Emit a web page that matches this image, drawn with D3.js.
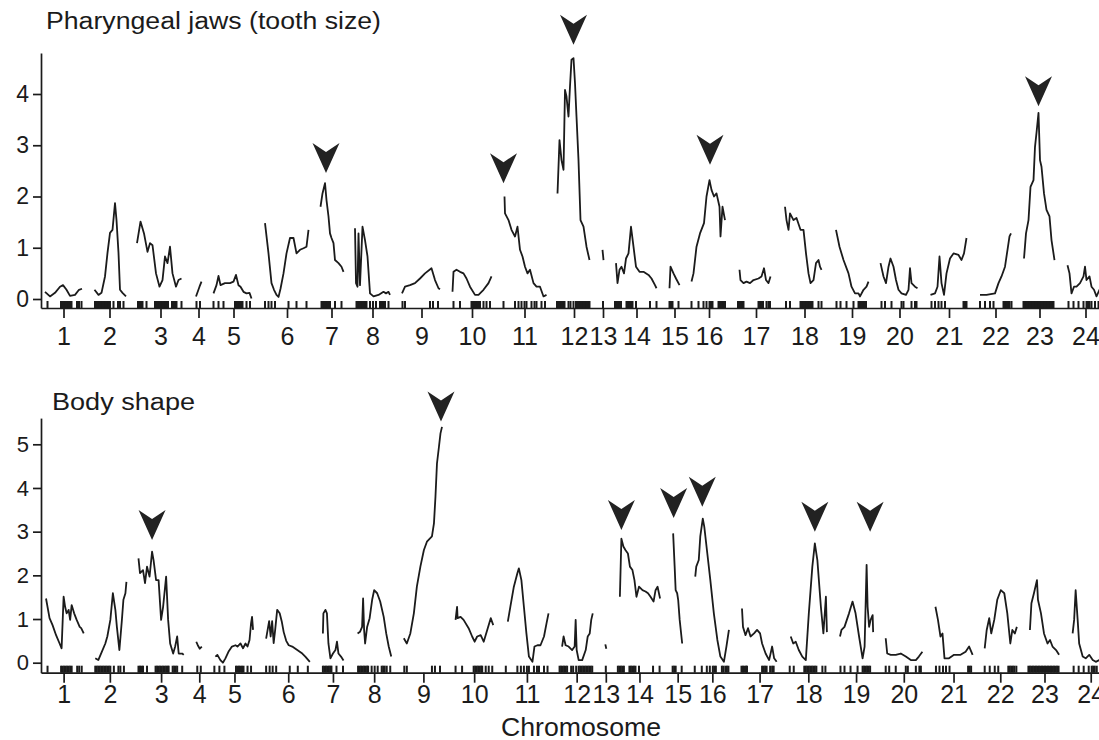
<!DOCTYPE html>
<html>
<head>
<meta charset="utf-8">
<script src="https://cdn.jsdelivr.net/npm/d3@7"></script>
<style>
body { margin: 0; background: #fff; }
svg { display: block; font-family: "Liberation Sans", Arial, Helvetica, sans-serif; }
</style>
</head>
<body>
<script>
// chromosome labels and linkage group lengths (cM)
var chromosomes = ["1","2","3","4","5","6","7","8","9","10","11","12",
                   "13","14","15","16","17","18","19","20","21","22","23","24"];
var chrLengths = [74, 66, 94, 14, 82, 88, 46, 74, 78, 80, 86, 68,
                  4, 86, 22, 72, 72, 78, 68, 78, 76, 66, 66, 74];

// marker positions (cM within chromosome), drawn as the rug on the x axis
var markers = [
	[5,32,35,38,41,44,47,50,53,64,68,73],
	[4,7,10,13,16,19,22,25,28,31,34,41,50,54,61],
	[2,5,8,11,19,36,39,42,45,48,51,54,57,60,62,70,73,76,79,89],
	[3,10],
	[1,11,21,44,47,50,53,56,59,67,74],
	[0,7,13,20,47,63,83],
	[3,6,9,12,15,18,20,30,43],
	[5,8,11,14,17,20,23,25,32,38,44,52,55,58,62,69],
	[1,6,56,62,72],
	[3,16,39,42,45,48,51,54,56,63,69,76],
	[1,24,31,37,43,47,57,63,67,77,84],
	[0,3,6,9,12,15,23,27,33,38,41,44,47,50,53,56,59,62,65],
	[2],
	[0,3,6,9,12,23,26,29,32,35,42,70,83],
	[1,4,7,19],
	[1,15,25,31,37,40,43,55,58,62,65,68],
	[0,3,6,9,11,41,44,47,50,57,61,64],
	[2,10,31,34,37,40,43,46,49,52,55,67,73],
	[3,11,23,37,47,50,53,56,59,62],
	[3,10,23,43,47,63,70,73],
	[3,10,17,23,30,67,70,73],
	[2,12,22,29,49,52,55,58,61,65],
	[1,4,7,10,13,16,19,22,25,28,31,34,37,40,43,46,49,52,55,58,61],
	[3,13,23,33,39,42,45,49,56,63]
];

// LOD profiles, one list of [cM, LOD] per chromosome
var jawLod = [
	[[0,0.14],[10,0.05],[20,0.12],[30,0.24],[36,0.27],[43,0.18],[50,0.06],[60,0.08],[68,0.18],[74,0.2]],
	[[3,0.18],[11,0.08],[17,0.12],[24,0.44],[29,0.9],[34,1.29],[39,1.35],[44,1.87],[47,1.54],[51,0.9],[54,0.18],[59,0.12],[66,0.05]],
	[[0,1.09],[7,1.51],[14,1.28],[21,0.92],[26,1.09],[31,1.05],[38,0.5],[45,0.24],[51,0.37],[56,0.83],[61,0.7],[66,1.02],[71,0.5],[78,0.24],[83,0.37],[89,0.4]],
	[[2,0.05],[9,0.24],[13,0.34]],
	[[1,0.11],[7,0.27],[11,0.45],[15,0.27],[24,0.31],[34,0.31],[41,0.34],[46,0.47],[51,0.27],[55,0.24],[61,0.14],[67,0.11],[73,0.12],[77,0.01]],
	[[0,1.48],[7,0.89],[13,0.31],[18,0.18],[23,0.08],[27,0.04],[31,0.2],[37,0.5],[43,0.89],[50,1.19],[57,1.19],[63,0.89],[70,0.96],[77,0.99],[83,1.02],[87,1.35]],
	[[1,1.8],[5,2.06],[10,2.26],[13,1.93],[17,1.61],[20,1.28],[23,1.19],[27,1.09],[30,0.76],[37,0.7],[43,0.63],[47,0.53]],
	[[2,1.38],[4,0.31],[7,0.24],[9,1.28],[12,0.27],[17,1.41],[22,1.15],[27,0.83],[32,0.11],[39,0.05],[49,0.08],[59,0.14],[64,0.11],[69,0.14],[72,0.08]],
	[[0,0.11],[6,0.24],[16,0.27],[26,0.31],[36,0.4],[46,0.5],[59,0.6],[66,0.37],[73,0.21],[76,0.19]],
	[[1,0.14],[3,0.53],[9,0.57],[16,0.53],[23,0.5],[29,0.4],[36,0.24],[46,0.08],[53,0.08],[63,0.18],[73,0.31],[79,0.44]],
	[[3,2.0],[4,1.67],[11,1.54],[17,1.35],[24,1.22],[29,1.41],[34,0.96],[39,0.83],[44,0.63],[49,0.5],[54,0.57],[61,0.31],[67,0.24],[74,0.24],[81,0.05],[87,0.08]],
	[[1,2.06],[5,3.1],[9,2.71],[13,2.52],[16,4.08],[19,3.95],[23,3.56],[26,4.15],[29,4.67],[33,4.7],[36,4.21],[39,3.56],[43,2.71],[47,1.54],[53,1.41],[59,1.02],[65,0.76]],
	[[1,0.96],[3,0.76]],
	[[2,0.7],[5,0.31],[9,0.57],[13,0.63],[18,0.5],[22,0.79],[27,0.89],[32,1.41],[37,1.02],[42,0.63],[49,0.53],[57,0.53],[67,0.47],[73,0.4],[80,0.27],[83,0.21]],
	[[1,0.21],[3,0.63],[9,0.5],[14,0.4],[21,0.27]],
	[[1,0.34],[5,0.5],[11,1.02],[18,1.28],[26,1.48],[31,2.0],[37,2.32],[41,2.13],[46,2.0],[51,2.06],[57,1.8],[59,1.22],[63,1.8],[68,1.54]],
	[[3,0.57],[5,0.37],[11,0.31],[17,0.34],[24,0.31],[31,0.37],[41,0.4],[47,0.44],[52,0.6],[56,0.37],[61,0.31],[65,0.44]],
	[[0,1.8],[3,1.54],[7,1.35],[10,1.67],[17,1.54],[23,1.58],[31,1.35],[37,1.35],[42,0.89],[47,0.5],[51,0.31],[57,0.37],[62,0.7],[67,0.76],[70,0.63],[73,0.57]],
	[[2,1.35],[9,1.02],[17,0.76],[27,0.5],[33,0.24],[40,0.11],[47,0.11],[50,0.05],[57,0.18],[63,0.24],[67,0.34]],
	[[1,0.7],[7,0.44],[12,0.31],[17,0.63],[21,0.79],[27,0.63],[32,0.37],[37,0.18],[43,0.11],[52,0.08],[57,0.18],[60,0.6],[63,0.31],[70,0.24],[75,0.21]],
	[[1,0.08],[10,0.11],[15,0.24],[19,0.83],[23,0.31],[28,0.08],[33,0.5],[40,0.79],[47,0.89],[57,0.86],[63,0.76],[68,0.89],[73,1.19]],
	[[2,0.08],[15,0.08],[32,0.11],[39,0.31],[45,0.44],[52,0.63],[57,0.96],[61,1.22],[64,1.28]],
	[[2,0.79],[6,1.28],[11,1.54],[15,2.19],[21,2.32],[24,2.97],[27,3.24],[31,3.63],[34,2.71],[37,2.58],[42,2.06],[47,1.74],[53,1.61],[57,1.15],[63,0.76]],
	[[1,0.66],[5,0.5],[9,0.11],[14,0.24],[19,0.24],[26,0.31],[33,0.44],[36,0.63],[39,0.37],[45,0.44],[49,0.24],[54,0.18],[59,0.05],[66,0.2],[72,0.15]]
];

var bodyLod = [
	[[2,1.47],[9,1.02],[15,0.86],[22,0.63],[29,0.44],[33,0.33],[37,1.51],[40,1.28],[43,1.13],[47,1.21],[50,0.98],[53,1.32],[58,1.13],[63,0.98],[69,0.82],[72,0.79],[77,0.67]],
	[[4,0.1],[10,0.06],[17,0.25],[24,0.44],[28,0.6],[34,0.98],[39,1.59],[44,1.21],[47,0.82],[52,0.29],[57,0.98],[60,1.44],[64,1.59],[66,1.85]],
	[[2,2.39],[5,2.05],[11,2.12],[15,1.82],[19,2.2],[24,1.97],[29,2.54],[32,2.35],[37,1.89],[42,1.89],[47,0.98],[51,1.28],[53,1.51],[57,1.97],[61,0.98],[65,0.44],[71,0.21],[75,0.37],[79,0.6],[82,0.21],[89,0.21],[92,0.18]],
	[[1,0.48],[4,0.4],[8,0.32],[12,0.37]],
	[[3,0.14],[7,0.18],[13,0.06],[18,0],[23,0.1],[29,0.25],[36,0.37],[43,0.4],[47,0.37],[53,0.44],[58,0.33],[63,0.44],[67,0.37],[71,0.52],[74,0.9],[76,1.05],[78,0.75]],
	[[0,0.55],[3,0.75],[6,0.95],[9,0.6],[12,0.95],[15,0.45],[18,0.75],[22,1.21],[27,1.13],[31,0.95],[35,0.7],[40,0.5],[45,0.4],[52,0.37],[62,0.29],[72,0.21],[78,0.14],[87,0.02]],
	[[3,0.67],[4,1.13],[8,1.21],[11,1.13],[14,0.44],[18,0.1],[23,0.21],[28,0.29],[31,0.48],[34,0.21],[39,0.14],[44,0.05]],
	[[4,0.67],[9,0.71],[13,0.82],[15,1.47],[17,0.75],[19,0.44],[23,0.82],[28,1.02],[33,1.44],[37,1.66],[43,1.59],[49,1.4],[56,1.05],[61,0.67],[66,0.37],[71,0.14]],
	[[0,0.56],[6,0.44],[13,0.67],[20,1.13],[26,1.74],[33,2.2],[40,2.58],[46,2.77],[56,2.89],[60,3.19],[63,3.8],[66,4.56],[70,4.95],[73,5.25],[76,5.4]],
	[[3,0.98],[6,1.28],[7,1.02],[13,1.05],[19,0.98],[29,0.79],[36,0.6],[41,0.48],[46,0.6],[53,0.63],[59,0.48],[66,0.75],[73,1.02],[78,0.86]],
	[[5,0.94],[10,1.28],[17,1.74],[24,2.05],[27,2.16],[32,1.89],[37,1.28],[42,0.67],[47,0.14],[54,0.02],[58,0.37],[64,0.4],[70,0.4],[77,0.6],[82,0.9],[86,1.13]],
	[[5,0.37],[8,0.6],[12,0.4],[18,0.37],[25,0.29],[30,0.37],[32,0.98],[34,0.29],[38,0.06],[45,0.06],[52,0.29],[56,0.6],[60,0.67],[63,0.98],[66,1.13]],
	[[1,0.42],[3,0.32]],
	[[4,1.51],[7,2.84],[11,2.66],[15,2.58],[20,2.5],[24,2.2],[29,2.12],[33,1.89],[37,1.51],[42,1.74],[49,1.66],[55,1.63],[60,1.59],[65,1.51],[71,1.4],[75,1.66],[79,1.74],[84,1.47]],
	[[2,2.96],[5,2.2],[7,1.66],[10,1.59],[12,1.44],[15,0.98],[20,0.44]],
	[[2,1.97],[4,2.2],[9,2.35],[12,2.89],[17,3.3],[20,3.11],[26,2.5],[32,1.89],[39,1.13],[46,0.52],[52,0.14],[59,0.02],[64,0.37],[69,0.75]],
	[[1,1.24],[3,0.82],[8,0.63],[13,0.79],[18,0.6],[25,0.67],[31,0.75],[37,0.67],[41,0.44],[48,0.21],[55,0.06],[61,0.37],[65,0.1],[70,0.02]],
	[[4,0.6],[9,0.44],[14,0.48],[20,0.29],[27,0.14],[34,0.06],[40,1.13],[47,2.2],[52,2.73],[57,2.35],[64,1.28],[69,0.67],[74,1.51],[76,0.7]],
	[[2,0.6],[5,0.75],[11,0.82],[20,1.13],[27,1.4],[33,1.13],[40,0.6],[47,0.1],[51,0.37],[55,2.24],[57,1.28],[60,0.82],[63,0.98],[67,1.09],[68,0.7]],
	[[3,0.56],[6,0.21],[13,0.18],[23,0.18],[33,0.21],[43,0.14],[53,0.06],[63,0.06],[69,0.14],[76,0.25]],
	[[2,1.28],[7,0.98],[12,0.6],[16,0.67],[20,0.1],[29,0.1],[39,0.18],[52,0.18],[62,0.25],[69,0.37],[76,0.18]],
	[[2,0.33],[6,0.75],[11,1.02],[15,0.67],[21,0.98],[27,1.44],[34,1.66],[41,1.59],[47,1.13],[53,0.44],[57,0.75],[62,0.67],[66,0.82]],
	[[4,0.75],[7,1.36],[12,1.59],[18,1.89],[20,1.44],[26,1.13],[32,0.67],[39,0.44],[44,0.52],[49,0.37],[56,0.29],[62,0.18]],
	[[1,0.67],[4,0.98],[7,1.66],[11,0.98],[14,0.44],[21,0.14],[27,0.1],[34,0.18],[41,0.06],[47,0.02],[54,0.06],[62,0.1],[70,0.05]]
];

// QTL arrowheads: [chromosome, cM, LOD at arrow tip]
var jawPeaks = [[7,12,2.46],[11,1,2.26],[12,33,4.96],[16,38,2.62],[23,31,3.76]];
var bodyPeaks = [[3,29,2.81],[9,74,5.52],[14,7,3.04],[15,3,3.31],[16,16,3.57],[18,52,3.0],[19,62,3.0]];

var jawTicks = [0, 1, 2, 3, 4];
var bodyTicks = [0, 1, 2, 3, 4, 5];

/*----------------------------- LAYOUT -----------------------------*/

var W = 1099, H = 740;
var gap = 22;
var chrStart = [];
var acc = 0;
chrLengths.forEach(function(l){
	chrStart.push(acc);
	acc += l + gap;
});
var total = acc - gap;
var mids = chrStart.map(function(s, i){ return s + chrLengths[i] / 2; });

var svg = d3.select('body').append('svg')
	.attr('width', W)
	.attr('height', H);

var ink = '#1b1b1b';

var drawPanel = function(p){
	var x = d3.scaleLinear()
		.domain([-8, total + 60])
		.range([41, 41 + (total + 68) * 0.5 * p.stretch]);

	var y = d3.scaleLinear()
		.domain([(p.zeroY - p.axisY) / p.unit, p.yTop])
		.range([p.axisY, p.zeroY - p.yTop * p.unit]);

	var g = svg.append('g');

	// title
	g.append('text')
		.attr('x', p.titleX)
		.attr('y', p.titleY)
		.attr('font-size', 23)
		.attr('textLength', p.titleLen)
		.attr('lengthAdjust', 'spacingAndGlyphs')
		.attr('fill', ink)
		.text(p.title);

	// rug of markers
	var rug = [];
	markers.forEach(function(list, i){
		list.forEach(function(m){ rug.push(chrStart[i] + m); });
	});
	g.append('g').selectAll('line').data(rug)
		.enter().append('line')
		.attr('x1', function(d){ return x(d); })
		.attr('x2', function(d){ return x(d); })
		.attr('y1', p.axisY - 7)
		.attr('y2', p.axisY)
		.attr('stroke', ink)
		.attr('stroke-width', 2);

	// x axis
	var xAxis = g.append('g')
		.attr('transform', 'translate(0,' + p.axisY + ')')
		.call(d3.axisBottom(x)
			.tickValues(mids)
			.tickFormat(function(d, i){ return chromosomes[i]; })
			.tickSize(10)
			.tickSizeOuter(0)
			.tickPadding(p.xPad));
	xAxis.selectAll('path, line').attr('stroke', ink).attr('stroke-width', 1.7);
	xAxis.selectAll('text').attr('font-size', 25).attr('fill', ink)
		.attr('font-family', '"Liberation Sans", Arial, sans-serif');

	// y axis
	var yAxis = g.append('g')
		.attr('transform', 'translate(41,0)')
		.call(d3.axisLeft(y)
			.tickValues(p.ticks)
			.tickFormat(d3.format('d'))
			.tickSize(8)
			.tickSizeOuter(0)
			.tickPadding(4));
	yAxis.selectAll('path, line').attr('stroke', ink).attr('stroke-width', 1.7);
	yAxis.selectAll('text').attr('font-size', p.yFont).attr('fill', ink)
		.attr('font-family', '"Liberation Sans", Arial, sans-serif');

	// LOD curves
	var line = d3.line()
		.x(function(d){ return x(d[0]); })
		.y(function(d){ return y(d[1]); });

	p.lod.forEach(function(pts, i){
		g.append('path')
			.datum(pts.map(function(d){ return [chrStart[i] + d[0], d[1]]; }))
			.attr('d', line)
			.attr('fill', 'none')
			.attr('stroke', ink)
			.attr('stroke-width', 1.8)
			.attr('stroke-linejoin', 'round');
	});

	// arrowheads
	g.append('g').selectAll('path').data(p.peaks)
		.enter().append('path')
		.attr('transform', function(d){
			return 'translate(' + x(chrStart[d[0] - 1] + d[1]) + ',' + y(d[2]) + ')';
		})
		.attr('d', 'M0,0L-13.5,-30L0,-21L13.5,-30Z')
		.attr('fill', '#222');

	return x;
};

drawPanel({
	title: 'Pharyngeal jaws (tooth size)', titleX: 46, titleY: 29, titleLen: 335,
	lod: jawLod, peaks: jawPeaks, ticks: jawTicks,
	zeroY: 299, unit: 51.25, axisY: 308, yTop: 4.8,
	stretch: 1, xPad: 9, yFont: 23
});

drawPanel({
	title: 'Body shape', titleX: 52, titleY: 410, titleLen: 143,
	lod: bodyLod, peaks: bodyPeaks, ticks: bodyTicks,
	zeroY: 662.7, unit: 43.68, axisY: 672.7, yTop: 5.6,
	stretch: 1.005, xPad: 3, yFont: 22
});

svg.append('text')
	.attr('x', 581)
	.attr('y', 736)
	.attr('text-anchor', 'middle')
	.attr('font-size', 25)
	.attr('textLength', 160)
	.attr('lengthAdjust', 'spacingAndGlyphs')
	.attr('fill', ink)
	.text('Chromosome');
</script>
</body>
</html>
